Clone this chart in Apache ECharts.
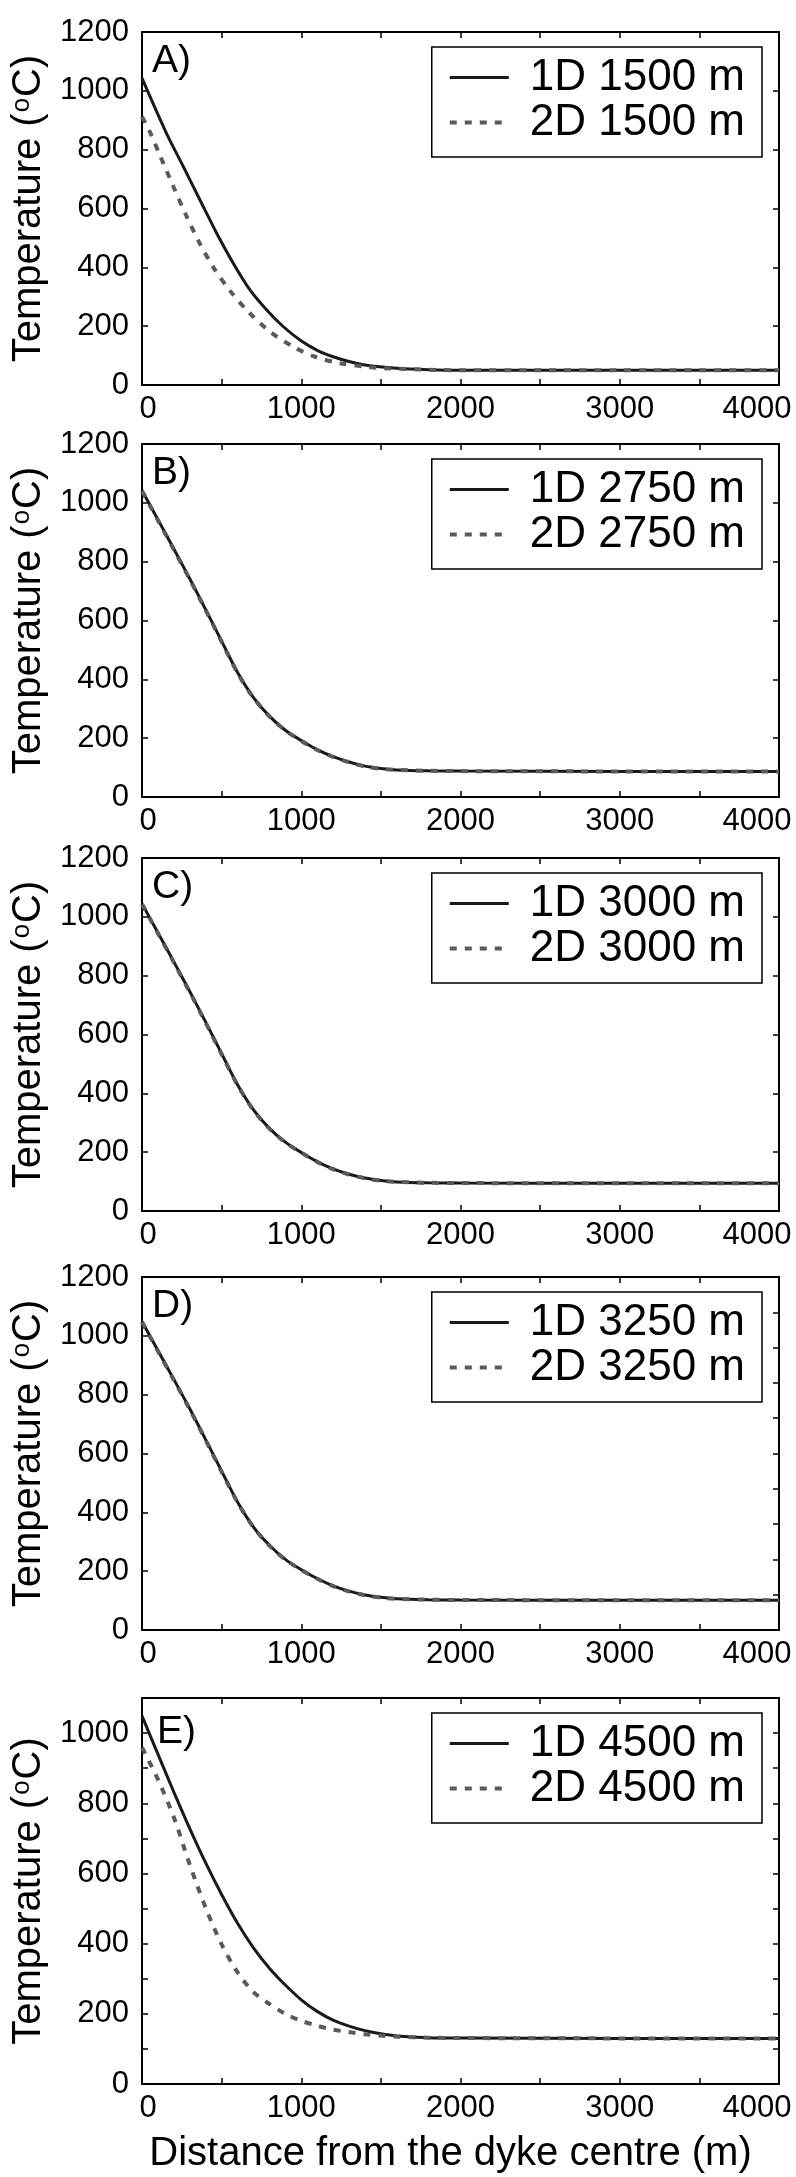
<!DOCTYPE html>
<html>
<head>
<meta charset="utf-8">
<script src="https://cdn.jsdelivr.net/npm/echarts@6/dist/echarts.min.js"></script>
<style>
  html, body { margin: 0; padding: 0; background: #fff; }
  #chart { width: 796px; height: 2177px; }
</style>
</head>
<body>
<div id="chart"></div>
<script>
// distance from the dyke centre (m) and temperature (oC)
const xA1 = [0, 150, 260, 364, 469, 573, 678, 783, 888, 992, 1100, 1200, 1300, 1400, 1600, 1800, 2000, 2500, 3000, 3500, 4000]
const tA1 = [1043, 860, 742, 629, 516, 414, 323, 255, 198, 153, 118, 96, 80, 68, 57, 52, 50, 50, 50, 50, 50]
const xA2 = [0, 50, 113, 197, 276, 360, 448, 553, 668, 804, 950, 1086, 1243, 1411, 1515, 1800, 2000, 2500, 3000, 3500, 4000]
const tA2 = [912, 860, 780, 675, 578, 484, 400, 320, 249, 181, 130, 96, 74, 62, 57, 52, 50, 50, 50, 50, 50]

// panels B-D and E share one set of distances
const dist = [0, 100, 200, 300, 400, 500, 600, 700, 800, 900, 1000, 1100, 1200, 1300, 1400, 1500, 1600, 1800, 2000, 3000, 4000]

const tB1 = [1042, 943, 843, 742, 637, 530, 423, 338, 275, 227, 192, 161, 137, 119, 105, 97, 92, 89, 88, 87, 87]
const tB2 = [1040, 941, 841, 740, 635, 528, 422, 337, 274, 226, 191, 160, 136, 118, 104, 96, 92, 89, 88, 87, 87]

const tC1 = [1045, 946, 847, 746, 642, 535, 429, 344, 281, 234, 199, 168, 143, 125, 112, 104, 99, 96, 95, 94, 94]
const tC2 = [1043, 944, 845, 744, 640, 533, 428, 343, 280, 233, 198, 167, 142, 124, 111, 103, 99, 96, 95, 94, 94]

const tD1 = [1049, 950, 852, 752, 647, 540, 435, 350, 288, 240, 205, 175, 150, 132, 119, 111, 106, 103, 102, 101, 101]
const tD2 = [1047, 948, 850, 750, 645, 538, 434, 349, 287, 239, 204, 174, 149, 131, 118, 110, 106, 103, 102, 101, 101]

const tE1 = [1049, 940, 832, 728, 630, 540, 458, 388, 330, 282, 240, 207, 182, 165, 152, 143, 137, 132, 131, 130, 130]
const tE2 = [959, 868, 760, 625, 502, 398, 318, 262, 228, 200, 180, 166, 155, 148, 142, 138, 135, 132, 131, 130, 130]

const panelLabels = ['A)', 'B)', 'C)', 'D)', 'E)']
const depths = ['1500 m', '2750 m', '3000 m', '3250 m', '4500 m']
const yMax = [1200, 1200, 1200, 1200, 1100]
const curves = [
  [xA1, tA1, xA2, tA2],
  [dist, tB1, dist, tB2],
  [dist, tC1, dist, tC2],
  [dist, tD1, dist, tD2],
  [dist, tE1, dist, tE2]
]

// layout of the five stacked panels
const layout = [
  { top: 32, height: 353, leftStep: 200, rightStep: 200, labelLeft: 152, labelTop: 42 },
  { top: 444, height: 353, leftStep: 200, rightStep: 200, labelLeft: 152, labelTop: 454 },
  { top: 858, height: 353, leftStep: 200, rightStep: 200, labelLeft: 152, labelTop: 868 },
  { top: 1277, height: 353, leftStep: 200, rightStep: 120, labelLeft: 152, labelTop: 1287 },
  { top: 1698, height: 386, leftStep: 100, rightStep: 100, labelLeft: 157, labelTop: 1713 }
]

const FONT = '"Liberation Sans", Arial, Helvetica, sans-serif'
const solid = { color: '#1a1a1a', width: 3, type: 'solid' }
const dotted = { color: '#5a5a5a', width: 4, type: [7, 8] }

function zip(xs, ys) {
  return xs.map((x, i) => [x, ys[i]])
}

const frameLine = { show: true, onZero: false, lineStyle: { color: '#000', width: 2 } }
const tick = { show: true, inside: true, length: 6, lineStyle: { color: '#000', width: 1.5 } }

const grid = []
const xAxis = []
const yAxis = []
const series = []
const legend = []
const title = []

layout.forEach((p, i) => {
  grid.push({ left: 142, right: 17, top: p.top, height: p.height })

  xAxis.push({
    type: 'value', gridIndex: i, position: 'bottom',
    min: 0, max: 4000, interval: 500,
    axisLine: frameLine, axisTick: tick, splitLine: { show: false },
    axisLabel: {
      color: '#000', fontSize: 31, fontFamily: FONT, margin: 9, showMaxLabel: true,
      formatter: v => {
        if (v % 1000) return ''
        if (v === 0) return '{z|0}'
        if (v === 4000) return '{m|4000}'
        return String(v)
      },
      rich: {
        z: { fontSize: 31, fontFamily: FONT, color: '#000', padding: [0, 0, 0, 12] },
        m: { fontSize: 31, fontFamily: FONT, color: '#000', padding: [0, 44, 0, 0] }
      }
    },
    name: i === 4 ? 'Distance from the dyke centre (m)' : '',
    nameLocation: 'middle', nameGap: 50,
    nameTextStyle: { color: '#000', fontSize: 40, fontFamily: FONT, padding: [0, 20, 0, 0] }
  })
  xAxis.push({
    type: 'value', gridIndex: i, position: 'top',
    min: 0, max: 4000, interval: 500,
    axisLine: frameLine, axisTick: tick, splitLine: { show: false },
    axisLabel: { show: false }
  })

  yAxis.push({
    type: 'value', gridIndex: i, position: 'left',
    min: 0, max: yMax[i], interval: p.leftStep,
    axisLine: frameLine, axisTick: tick, splitLine: { show: false },
    axisLabel: {
      color: '#000', fontSize: 31, fontFamily: FONT, margin: 13, padding: [0, 0, 10, 0],
      formatter: v => (v % 200 ? '' : String(v))
    },
    name: 'Temperature ({s|o}C)',
    nameLocation: 'middle', nameGap: 90,
    nameTextStyle: {
      color: '#000', fontSize: 40, fontFamily: FONT,
      rich: { s: { fontSize: 26, fontFamily: FONT, color: '#000', verticalAlign: 'top', padding: [0, 1, 0, 1] } }
    }
  })
  yAxis.push({
    type: 'value', gridIndex: i, position: 'right',
    min: 0, max: yMax[i], interval: p.rightStep,
    axisLine: frameLine, axisTick: tick, splitLine: { show: false },
    axisLabel: { show: false }
  })

  const c = curves[i]
  const n1 = '1D ' + depths[i]
  const n2 = '2D ' + depths[i]
  series.push({
    name: n1, type: 'line', xAxisIndex: 2 * i, yAxisIndex: 2 * i,
    data: zip(c[0], c[1]), symbol: 'none', smooth: 0.3,
    lineStyle: solid, itemStyle: { color: solid.color }
  })
  series.push({
    name: n2, type: 'line', xAxisIndex: 2 * i, yAxisIndex: 2 * i,
    data: zip(c[2], c[3]), symbol: 'none', smooth: 0.3,
    lineStyle: dotted, itemStyle: { color: dotted.color }
  })

  legend.push({
    data: [
      { name: n1, lineStyle: solid },
      { name: n2, lineStyle: dotted }
    ],
    orient: 'vertical', right: 34, top: p.top + 15,
    itemWidth: 59, itemHeight: 14, itemGap: 0,
    padding: [8, 17, 12, 16],
    borderColor: '#000', borderWidth: 1.5, backgroundColor: '#fff',
    itemStyle: { color: 'rgba(0,0,0,0)', borderWidth: 0, opacity: 0 },
    textStyle: { color: '#000', fontSize: 44, lineHeight: 45, fontFamily: FONT, padding: [0, 0, 0, 16] },
    selectedMode: false
  })

  title.push({
    text: panelLabels[i], left: p.labelLeft, top: p.labelTop, padding: 0,
    textStyle: { color: '#000', fontSize: 39, fontWeight: 'normal', fontFamily: FONT }
  })
})

const chart = echarts.init(document.getElementById('chart'))
chart.setOption({
  animation: false,
  backgroundColor: '#fff',
  title, grid, xAxis, yAxis, series, legend
})
</script>
</body>
</html>
